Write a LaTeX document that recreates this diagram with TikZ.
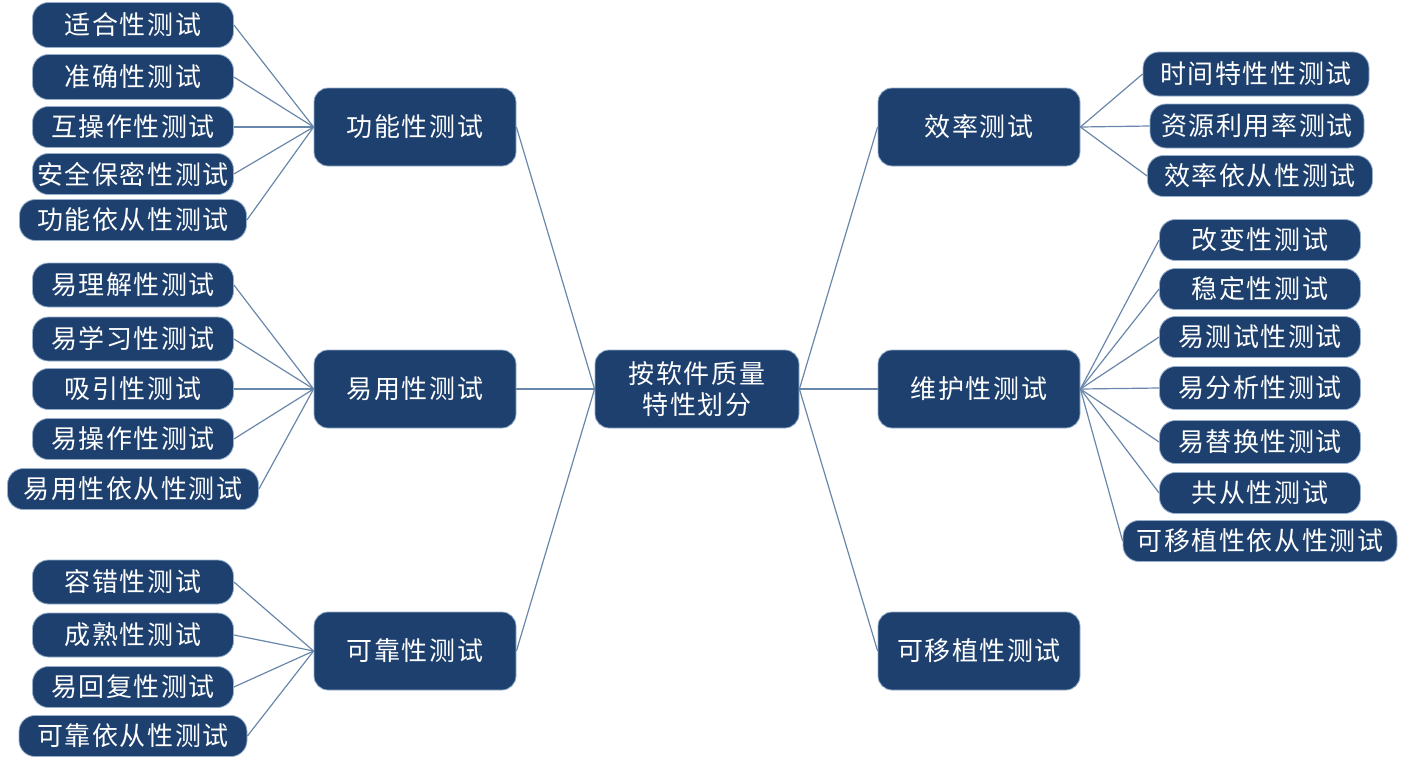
\documentclass[tikz,border=0pt]{standalone}
\usepackage{fontspec}
\newfontfamily\cjk[LetterSpace=6]{Noto Sans CJK SC}
\definecolor{navy}{RGB}{30,64,110}
\definecolor{halo}{RGB}{150,175,205}
\definecolor{conncol}{RGB}{105,135,170}
\begin{document}
\begin{tikzpicture}[x=1pt,y=-1pt,
  box/.style={fill=navy, draw=halo, line width=0.8pt, text=white, inner sep=0pt,
    align=center, font=\cjk\fontsize{26}{31}\selectfont},
  leaf/.style={box, rounded corners=16pt, minimum width=201pt, minimum height=43pt},
  mid/.style={box, rounded corners=14pt, minimum width=202pt, minimum height=78pt},
  conn/.style={draw=conncol, line width=1.2pt}]
\useasboundingbox (0,0) rectangle (1409,766);

% centre
\node[mid, minimum width=204pt] (c) at (697,389) {按软件质量\\特性划分};

% middle level
\node[mid] (f) at (415,127) {功能性测试};
\node[mid] (u) at (415,389) {易用性测试};
\node[mid] (r) at (415,651) {可靠性测试};
\node[mid] (e) at (979,127) {效率测试};
\node[mid] (m) at (979,389) {维护性测试};
\node[mid] (p) at (979,651) {可移植性测试};

% left leaves: functionality
\node[leaf, minimum height=45pt] (f1) at (133,25) {适合性测试};
\node[leaf, minimum height=45pt] (f2) at (133,77) {准确性测试};
\node[leaf, minimum height=41pt] (f3) at (133,127) {互操作性测试};
\node[leaf, minimum height=41pt] (f4) at (133,174) {安全保密性测试};
\node[leaf, minimum height=41pt, minimum width=227pt] (f5) at (133,220) {功能依从性测试};

% left leaves: usability
\node[leaf, minimum height=44pt] (u1) at (133,285) {易理解性测试};
\node[leaf, minimum height=44pt] (u2) at (133,339) {易学习性测试};
\node[leaf, minimum height=41pt] (u3) at (133,389) {吸引性测试};
\node[leaf, minimum height=41pt] (u4) at (133,439) {易操作性测试};
\node[leaf, minimum height=41pt, minimum width=251pt] (u5) at (133,489) {易用性依从性测试};

% left leaves: reliability
\node[leaf, minimum height=44pt] (r1) at (133,582) {容错性测试};
\node[leaf, minimum height=44pt] (r2) at (133,635) {成熟性测试};
\node[leaf, minimum height=41pt] (r3) at (133,687) {易回复性测试};
\node[leaf, minimum height=41pt, minimum width=228pt] (r4) at (133,736) {可靠依从性测试};

% right leaves: efficiency
\node[leaf, minimum height=44pt, minimum width=226pt] (e1) at (1256,74) {时间特性性测试};
\node[leaf, minimum height=44pt, minimum width=214pt] (e2) at (1257,126) {资源利用率测试};
\node[leaf, minimum height=41pt, minimum width=225pt] (e3) at (1260,176) {效率依从性测试};

% right leaves: maintainability
\node[leaf, minimum height=41pt] (m1) at (1260,240) {改变性测试};
\node[leaf, minimum height=41pt] (m2) at (1260,289) {稳定性测试};
\node[leaf, minimum height=41pt] (m3) at (1260,337) {易测试性测试};
\node[leaf, minimum height=43pt] (m4) at (1260,388) {易分析性测试};
\node[leaf, minimum height=43pt] (m5) at (1260,442) {易替换性测试};
\node[leaf, minimum height=41pt] (m6) at (1260,493) {共从性测试};
\node[leaf, minimum height=41pt, minimum width=274pt] (m7) at (1260,541) {可移植性依从性测试};

% connectors
\foreach \a in {f,u,r} \draw[conn] (c.west) -- (\a.east);
\foreach \a in {e,m,p} \draw[conn] (c.east) -- (\a.west);
\foreach \i in {1,...,5} \draw[conn] (f\i.east) -- (f.west);
\foreach \i in {1,...,5} \draw[conn] (u\i.east) -- (u.west);
\foreach \i in {1,...,4} \draw[conn] (r\i.east) -- (r.west);
\foreach \i in {1,...,3} \draw[conn] (e.east) -- (e\i.west);
\foreach \i in {1,...,7} \draw[conn] (m.east) -- (m\i.west);
\end{tikzpicture}
\end{document}
